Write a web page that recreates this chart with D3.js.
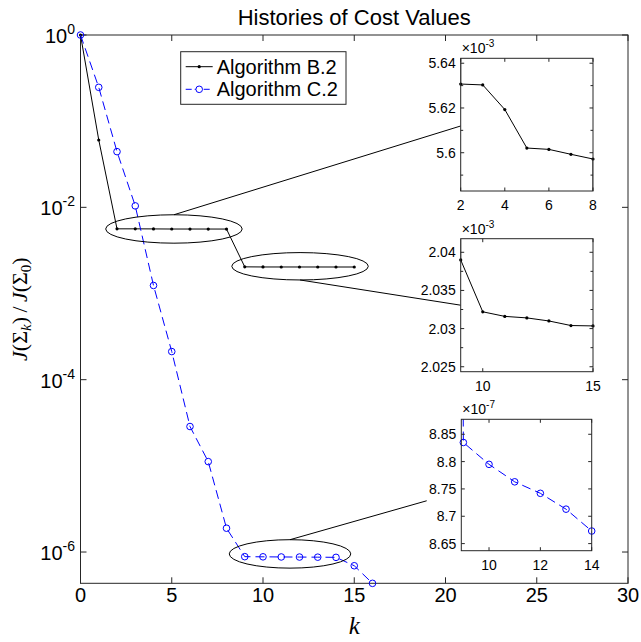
<!DOCTYPE html>
<html>
<head>
<meta charset="utf-8">
<script src="https://cdn.jsdelivr.net/npm/d3@7"></script>
<style>
  body { margin: 0; background: #fff; }
  svg { display: block; }
</style>
</head>
<body>
<script>
// ---- data -----------------------------------------------------------------
const chartTitle = "Histories of Cost Values";
const seriesNames = ["Algorithm B.2", "Algorithm C.2"];

// iteration index k and normalised cost J(Σk)/J(Σ0)
const iterB = d3.range(0, 16);
const costB = [1, 0.0605,
  5.6307e-3, 5.6303e-3, 5.6193e-3, 5.6021e-3, 5.6015e-3, 5.5993e-3, 5.5972e-3,
  2.0390e-3, 2.0322e-3, 2.0316e-3, 2.0314e-3, 2.0310e-3, 2.0304e-3, 2.03035e-3];

const iterC = d3.range(0, 17);
const costC = [1, 0.247, 0.0443, 0.0104, 1.24e-3, 2.12e-4, 2.86e-5, 1.12e-5, 1.89e-6,
  8.835e-7, 8.795e-7, 8.763e-7, 8.742e-7, 8.713e-7, 8.673e-7, 6.93e-7, 4.33e-7];

const xTickValues = [0, 5, 10, 15, 20, 25, 30];
const yTickExponents = [0, -2, -4, -6];
const xDomain = [0, 30];
const yDomainExp = [-6.363, 0];

// zoomed views: which series, k window, value window (in units of 10^exp)
const zoomSeriesIndex = [0, 0, 1];
const zoomKRange = [[2, 8], [9, 15], [8.92, 14]];
const zoomValueRange = [[5.5829, 5.6422], [2.02435, 2.04178], [8.637, 8.8774]];
const zoomExponent = [-3, -3, -7];
const zoomXTicks = [[2, 4, 6, 8], [10, 15], [10, 12, 14]];
const zoomYTicks = [[5.6, 5.62, 5.64], [2.025, 2.03, 2.035, 2.04], [8.65, 8.7, 8.75, 8.8, 8.85]];
const zoomYMinor = [[5.59, 5.61, 5.63], [2.0275, 2.0325, 2.0375], []];
const zoomYFormat = [d3.format(".3~f"), d3.format(".3~f"), d3.format(".2~f")];

// highlight ellipses on the main axes: centre k, centre log10(value), half-width (k), half-height (decades)
const ellipseCenterK = [5.12, 12.03, 11.48];
const ellipseCenterExp = [-2.251, -2.684, -6.022];
const ellipseHalfK = [3.74, 3.74, 3.33];
const ellipseHalfExp = [0.165, 0.159, 0.165];
const ellipseAnchorSide = [-1, 1, -1];   // -1 top, +1 bottom

// ---- layout ---------------------------------------------------------------
const W = 641, H = 642;
const plot = { left: 80.5, top: 35, right: 628, bottom: 583.3 };
const insetBoxes = [
  { x: 460.7, y: 58.3, w: 132.3, h: 132.7 },
  { x: 460.7, y: 238.7, w: 132.3, h: 133 },
  { x: 461.3, y: 419.3, w: 130.4, h: 131.4 }
];
const connectorEnd = [{ dx: 0, fy: 0.51 }, { dx: 0, fy: 0.5 }, { dx: -34.6, fy: 0.62 }];

const axisColor = "#262626";
const blue = "#0000ff";
const sans = "'Liberation Sans', Arial, Helvetica, sans-serif";
const serif = "'Liberation Serif', 'Times New Roman', serif";

const svg = d3.select("body").append("svg").attr("width", W).attr("height", H);

const x = d3.scaleLinear().domain(xDomain).range([plot.left, plot.right]);
const y = d3.scaleLog().domain([Math.pow(10, yDomainExp[0]), 1]).range([plot.bottom, plot.top]);

const dataB = iterB.map((k, i) => ({ k, v: costB[i] }));
const dataC = iterC.map((k, i) => ({ k, v: costC[i] }));
const seriesData = [dataB, dataC];

// ---- main axes ------------------------------------------------------------
const gMain = svg.append("g");

gMain.append("rect")
  .attr("x", plot.left).attr("y", plot.top)
  .attr("width", plot.right - plot.left).attr("height", plot.bottom - plot.top)
  .attr("fill", "#fff").attr("stroke", axisColor).attr("stroke-width", 1);

const tickLen = 6;
xTickValues.forEach(t => {
  const px = x(t);
  gMain.append("line").attr("x1", px).attr("x2", px)
    .attr("y1", plot.bottom).attr("y2", plot.bottom - tickLen)
    .attr("stroke", axisColor);
  gMain.append("line").attr("x1", px).attr("x2", px)
    .attr("y1", plot.top).attr("y2", plot.top + tickLen)
    .attr("stroke", axisColor);
  gMain.append("text").attr("x", px).attr("y", 602)
    .attr("text-anchor", "middle").attr("font-family", sans).attr("font-size", 20)
    .attr("fill", "#000").text(t);
});

yTickExponents.forEach(e => {
  const py = y(Math.pow(10, e));
  gMain.append("line").attr("x1", plot.left).attr("x2", plot.left + tickLen)
    .attr("y1", py).attr("y2", py).attr("stroke", axisColor);
  gMain.append("line").attr("x1", plot.right).attr("x2", plot.right - tickLen)
    .attr("y1", py).attr("y2", py).attr("stroke", axisColor);
  const t = gMain.append("text").attr("x", 75).attr("y", py + 8)
    .attr("text-anchor", "end").attr("font-family", sans).attr("font-size", 20)
    .attr("fill", "#000");
  t.append("tspan").text("10");
  t.append("tspan").attr("dy", -9).attr("font-size", 14).text(e);
});

// title and axis labels
svg.append("text").attr("x", (plot.left + plot.right) / 2).attr("y", 25)
  .attr("text-anchor", "middle").attr("font-family", sans).attr("font-size", 22)
  .attr("fill", "#000").text(chartTitle);

svg.append("text").attr("x", (plot.left + plot.right) / 2).attr("y", 634)
  .attr("text-anchor", "middle").attr("font-family", serif).attr("font-size", 25)
  .attr("font-style", "italic").attr("fill", "#000").text("k");

const yl = svg.append("text")
  .attr("transform", `translate(27,${(plot.top + plot.bottom) / 2}) rotate(-90)`)
  .attr("text-anchor", "middle").attr("font-family", serif).attr("font-size", 22)
  .attr("fill", "#000");
yl.append("tspan").attr("font-style", "italic").text("J");
yl.append("tspan").text("(Σ");
yl.append("tspan").attr("font-style", "italic").attr("font-size", 15).attr("dy", 4).text("k");
yl.append("tspan").attr("dy", -4).text(")\u2009/\u2009");
yl.append("tspan").attr("font-style", "italic").text("J");
yl.append("tspan").text("(Σ");
yl.append("tspan").attr("font-size", 15).attr("dy", 4).text("0");
yl.append("tspan").attr("dy", -4).text(")");

// ---- series drawing helpers ----------------------------------------------
function drawLine(g, data, idx, xs, ys) {
  const line = d3.line().x(d => xs(d.k)).y(d => ys(d.v));
  const path = g.append("path").datum(data).attr("d", line)
    .attr("fill", "none").attr("stroke-width", 1);
  if (idx === 0) path.attr("stroke", "#000");
  else path.attr("stroke", blue).attr("stroke-dasharray", "9,5");
}

function drawMarkers(g, data, idx, xs, ys) {
  if (idx === 0) {
    g.selectAll(null).data(data).enter().append("circle")
      .attr("cx", d => xs(d.k)).attr("cy", d => ys(d.v)).attr("r", 1.6)
      .attr("fill", "#000");
  } else {
    g.selectAll(null).data(data).enter().append("circle")
      .attr("cx", d => xs(d.k)).attr("cy", d => ys(d.v)).attr("r", 3.3)
      .attr("fill", "none").attr("stroke", blue).attr("stroke-width", 1);
  }
}

const gData = svg.append("g");
drawLine(gData, dataB, 0, x, y);
drawMarkers(gData, dataB, 0, x, y);
drawLine(gData, dataC, 1, x, y);
drawMarkers(gData, dataC, 1, x, y);

// ---- highlight ellipses and connectors -----------------------------------
const gAnn = svg.append("g");
ellipseCenterK.forEach((ck, i) => {
  const cx = x(ck);
  const cy = y(Math.pow(10, ellipseCenterExp[i]));
  const rx = x(ck + ellipseHalfK[i]) - cx;
  const ry = cy - y(Math.pow(10, ellipseCenterExp[i] + ellipseHalfExp[i]));
  gAnn.append("ellipse").attr("cx", cx).attr("cy", cy).attr("rx", rx).attr("ry", ry)
    .attr("fill", "none").attr("stroke", "#000").attr("stroke-width", 1);
  const box = insetBoxes[i];
  const end = connectorEnd[i];
  gAnn.append("line")
    .attr("x1", cx).attr("y1", cy + ellipseAnchorSide[i] * ry)
    .attr("x2", box.x + end.dx).attr("y2", box.y + end.fy * box.h)
    .attr("stroke", "#000").attr("stroke-width", 1);
});

// ---- legend ---------------------------------------------------------------
const lg = svg.append("g");
lg.append("rect").attr("x", 180.7).attr("y", 51.7).attr("width", 165.3).attr("height", 52.6)
  .attr("fill", "#fff").attr("stroke", axisColor).attr("stroke-width", 1);
seriesNames.forEach((name, i) => {
  const ly = 66.7 + i * 22.6;
  const ln = lg.append("line").attr("x1", 185.7).attr("x2", 212.7).attr("y1", ly).attr("y2", ly)
    .attr("stroke-width", 1);
  if (i === 0) {
    ln.attr("stroke", "#000");
    lg.append("circle").attr("cx", 199.2).attr("cy", ly).attr("r", 1.6).attr("fill", "#000");
  } else {
    ln.attr("stroke", blue).attr("stroke-dasharray", "6,3");
    lg.append("circle").attr("cx", 199.2).attr("cy", ly).attr("r", 3.3)
      .attr("fill", "#fff").attr("stroke", blue);
  }
  lg.append("text").attr("x", 216.7).attr("y", ly + 7).attr("font-family", sans)
    .attr("font-size", 20).attr("fill", "#000").text(name);
});

// ---- zoomed insets --------------------------------------------------------
insetBoxes.forEach((box, i) => {
  const g = svg.append("g");
  const scale = Math.pow(10, zoomExponent[i]);
  const xs = d3.scaleLinear().domain(zoomKRange[i]).range([box.x, box.x + box.w]);
  const ys = d3.scaleLinear().domain(zoomValueRange[i].map(v => v * scale))
    .range([box.y + box.h, box.y]);

  g.append("rect").attr("x", box.x).attr("y", box.y).attr("width", box.w).attr("height", box.h)
    .attr("fill", "#fff");

  const clipId = "clip" + i;
  g.append("clipPath").attr("id", clipId).append("rect")
    .attr("x", box.x).attr("y", box.y).attr("width", box.w).attr("height", box.h);

  const si = zoomSeriesIndex[i];
  const [k0, k1] = zoomKRange[i];
  // only the points inside the window plus one neighbour on each side
  const near = seriesData[si].filter(d => d.k >= Math.floor(k0) - 1 && d.k <= Math.ceil(k1) + 1);
  const inside = seriesData[si].filter(d => d.k >= k0 && d.k <= k1);
  drawLine(g.append("g").attr("clip-path", `url(#${clipId})`), near, si, xs, ys);
  drawMarkers(g.append("g"), inside, si, xs, ys);

  const tl = 3.5;
  zoomXTicks[i].forEach(t => {
    const px = xs(t);
    g.append("line").attr("x1", px).attr("x2", px).attr("y1", box.y + box.h).attr("y2", box.y + box.h - tl).attr("stroke", axisColor);
    g.append("line").attr("x1", px).attr("x2", px).attr("y1", box.y).attr("y2", box.y + tl).attr("stroke", axisColor);
    g.append("text").attr("x", px).attr("y", box.y + box.h + 19).attr("text-anchor", "middle")
      .attr("font-family", sans).attr("font-size", 14).attr("fill", "#000").text(t);
  });
  const yTick = (t, minor) => {
    const py = ys(t * scale);
    const len = minor ? 2.5 : tl;
    g.append("line").attr("x1", box.x).attr("x2", box.x + len).attr("y1", py).attr("y2", py).attr("stroke", axisColor);
    g.append("line").attr("x1", box.x + box.w).attr("x2", box.x + box.w - len).attr("y1", py).attr("y2", py).attr("stroke", axisColor);
  };
  zoomYTicks[i].forEach(t => {
    yTick(t, false);
    g.append("text").attr("x", box.x - 5).attr("y", ys(t * scale) + 5).attr("text-anchor", "end")
      .attr("font-family", sans).attr("font-size", 14).attr("fill", "#000").text(zoomYFormat[i](t));
  });
  zoomYMinor[i].forEach(t => yTick(t, true));

  g.append("rect").attr("x", box.x).attr("y", box.y).attr("width", box.w).attr("height", box.h)
    .attr("fill", "none").attr("stroke", axisColor).attr("stroke-width", 1);

  const ex = g.append("text").attr("x", box.x + 1).attr("y", box.y - 5)
    .attr("font-family", sans).attr("font-size", 14).attr("fill", "#000");
  ex.append("tspan").text("\u00d710");
  ex.append("tspan").attr("dy", -6).attr("font-size", 10).text(zoomExponent[i]);
});
</script>
</body>
</html>
